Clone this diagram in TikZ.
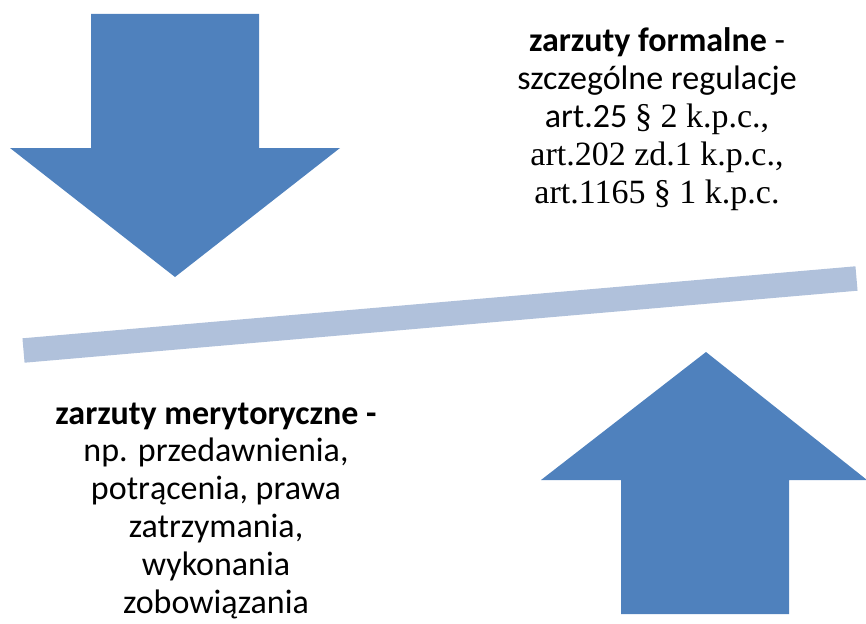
\documentclass[tikz,border=0pt]{standalone}
\usepackage{fontspec}
\setmainfont{Carlito}
\newfontfamily\timesfont{Liberation Serif}
\usepackage{tikz}
\definecolor{arrowblue}{RGB}{79,129,189}
\definecolor{barblue}{RGB}{176,193,219}
\tikzset{
  bigarrow/.style={draw=none,fill=arrowblue},
  label/.style={inner sep=0pt,align=center,anchor=base,font=\fontsize{34}{37.8}\selectfont}
}

\begin{document}
\begin{tikzpicture}[x=1pt,y=1pt,yscale=-1,xscale=1]
\useasboundingbox (0,0) rectangle (866,623);
% arrow pointing down
\draw [bigarrow] (91,14) -- (259,14) -- (259,148) -- (340,148) -- (175,277) -- (10,148) -- (91,148) -- cycle ;
% the bar
\coordinate (barL) at (23.5,350.5);
\coordinate (barR) at (856.5,278.5);
\draw [barblue,line width=24.5pt] (barL) -- (barR) ;
% arrow pointing up
\draw [bigarrow] (621,614) -- (789,614) -- (789,480) -- (867,480) -- (706,352) -- (541,480) -- (621,480) -- cycle ;
% texts, placed at the baseline of their last line
\draw (657,203) node [label] (formal) {\textbf{zarzuty formalne} -\\ szczególne regulacje\\ art.25 {\timesfont § 2 k.p.c.,}\\ {\timesfont art.202 zd.1 k.p.c.,}\\ {\timesfont art.1165 § 1 k.p.c.}};
\draw (216,613) node [label] (merit) {\textbf{zarzuty merytoryczne -}\\ np. przedawnienia,\\ potrącenia, prawa\\ zatrzymania,\\ wykonania\\ zobowiązania};
\end{tikzpicture}
\end{document}
